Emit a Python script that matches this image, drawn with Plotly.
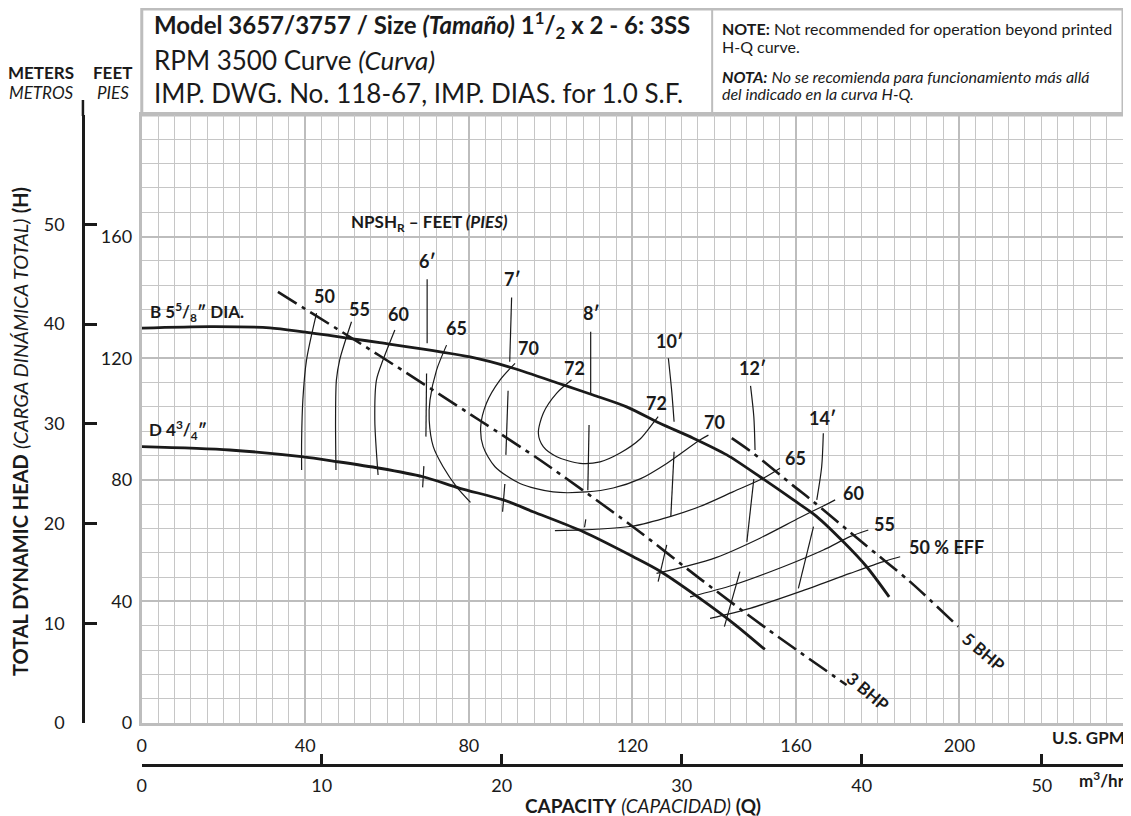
import plotly.graph_objects as go

# ---------------- data (U.S. GPM, feet) ----------------
b_q = [0, 16.6, 31.3, 52.1, 58.2, 80.3, 90.9, 103.1, 110.4, 118.6, 126.7, 134.9, 143.1, 151.2, 159.4, 165.1, 171.6, 177.3, 182.8]
b_h = [129.9, 130.4, 130.0, 126.3, 125.1, 120.4, 116.7, 111.2, 107.9, 104.0, 98.6, 93.7, 88.2, 81.0, 73.4, 67.9, 59.6, 51.4, 41.5]

d_q = [0, 21.5, 39.1, 47.6, 58.2, 68.8, 77.8, 88.4, 95.7, 108.0, 120.2, 126.7, 136.5, 144.7, 152.4]
d_h = [90.9, 89.8, 87.6, 86.0, 83.8, 81.0, 77.2, 73.4, 69.5, 62.9, 54.7, 50.0, 41.0, 32.8, 24.2]

bhp3_q = [33.3, 58.2, 82.7, 97.4, 120.2, 136.5, 152.9, 172.4]
bhp3_h = [141.8, 120.8, 99.5, 86.5, 64.5, 47.5, 31.0, 12.5]

bhp5_q = [144.3, 149.6, 159.4, 164.3, 176.5, 187.9, 199.7]
bhp5_h = [93.7, 88.7, 78.0, 72.8, 59.1, 46.5, 31.7]

# efficiency contours
e50a_q = [42.75, 40.3, 39.4, 39.1, 39.1]
e50a_h = [134.8, 119.4, 106.3, 93.1, 83.2]
e55a_q = [51.3, 48.4, 47.6, 47.4, 47.5]
e55a_h = [132.0, 119.4, 112.8, 100.0, 83.2]
e60a_q = [61.9, 59.0, 57.4, 57.0, 57.8]
e60a_h = [129.3, 119.4, 112.8, 99.7, 81.6]
e65a_q = [74.55, 72.1, 70.5, 70.3, 71.3, 73.7, 77.0, 80.4]
e65a_h = [124.3, 116.1, 106.3, 99.7, 90.9, 84.3, 77.7, 72.6]
e70_q = [91.3, 87.6, 84.3, 82.9, 83.5, 86.4, 92.5, 100.6, 108.8, 115.3, 121.9, 128.4, 136.5, 138.6]
e70_h = [118.3, 112.8, 105.2, 97.5, 90.9, 84.3, 78.8, 76.0, 76.0, 77.3, 80.3, 85.4, 93.1, 94.7]
e72_q = [105.1, 101.5, 98.2, 97.0, 98.2, 101.5, 107.2, 112.1, 117.0, 121.9, 125.1, 126.3]
e72_h = [112.8, 108.5, 101.9, 95.3, 90.9, 87.6, 85.4, 85.9, 88.8, 93.4, 98.7, 100.8]
e65b_q = [101.05, 108.0, 120.2, 129.2, 136.5, 144.7, 152.0, 156.1]
e65b_h = [63.3, 63.5, 64.8, 67.9, 71.2, 76.1, 80.5, 83.8]
e60b_q = [125.9, 133.3, 140.6, 151.2, 161.0, 166.7, 169.6]
e60b_h = [49.2, 51.6, 54.5, 60.8, 67.6, 71.4, 73.4]
e55b_q = [134.1, 144.7, 156.9, 166.7, 173.2, 177.7]
e55b_h = [41.5, 45.4, 51.4, 56.9, 61.3, 63.5]
e50b_q = [139.0, 148.8, 161.0, 173.2, 181.4, 185.5]
e50b_h = [34.4, 37.7, 43.2, 49.2, 53.1, 54.7]

# NPSHr curves (segments separated by None)
npsh6_q = [69.8, 69.8, None, 69.66, 69.5, None, 69.0, 68.7]
npsh6_h = [146.0, 124.9, None, 115.0, 94.2, None, 84.5, 77.5]
npsh7_q = [90.46, 90.0, None, 89.6, 89.06, None, 88.8, 88.25]
npsh7_h = [140.0, 118.8, None, 109.3, 88.2, None, 78.6, 69.5]
npsh8_q = [109.8, 109.8, None, 109.4, 109.1, None, 108.6, 108.3]
npsh8_h = [128.7, 107.9, None, 98.0, 76.6, None, 67.0, 64.4]
npsh10_q = [128.8, 129.6, 130.2, None, 130.2, 129.4, None, 128.4, 126.3]
npsh10_h = [120.0, 109.5, 99.1, None, 89.2, 67.9, None, 58.6, 46.5]
npsh12_q = [148.9, 149.7, 150.0, None, 149.7, 148.0, None, 146.3, 142.5]
npsh12_h = [110.9, 100.8, 89.8, None, 80.2, 59.6, None, 49.8, 31.7]
npsh14_q = [166.7, 166.3, 165.1, None, 164.3, 160.6]
npsh14_h = [95.3, 84.3, 73.4, None, 64.6, 44.3]

# axis ticks
gpm_ticks = [0, 40, 80, 120, 160, 200]
ft_ticks = [0, 40, 80, 120, 160]
m_ticks = [0, 10, 20, 30, 40, 50]
m3h_ticks = [0, 10, 20, 30, 40, 50]
GPM_MAX, FT_MAX = 240, 200
FT_PER_M = 3.28084
GPM_PER_M3H = 4.402868

# labels (text, q, h)
eff_labels = [("50", 44.8, 140.5), ("55", 53.3, 136.2), ("60", 62.9, 134.5), ("65", 77.1, 129.9),
              ("70", 94.7, 123.4), ("72", 105.9, 116.8), ("72", 126.0, 105.3), ("70", 140.0, 99.0),
              ("65", 160.0, 87.2), ("60", 174.0, 75.7), ("55", 181.6, 65.5)]
npsh_labels = [("6′", 70.0, 152.0), ("7′", 90.8, 146.1), ("8′", 110.1, 134.9),
               ("10′", 129.2, 125.7), ("12′", 149.5, 116.8), ("14′", 166.6, 100.3)]

# ---------------- layout geometry ----------------
# The page body has an 8px margin, so the figure starts at screen (8, 8).
OFF = 8
W, H = 1131 - OFF, 816 - OFF
ML, MR, MT, MB = 52, 5, 107, 40
SCR_L = ML + OFF            # screen x of paper left
SCR_B = H - MB + OFF        # screen y of paper bottom
PW, PH = W - ML - MR, H - MT - MB
PLOT_L, PLOT_B = 142, 723   # screen px of plot origin
xd0 = (PLOT_L - SCR_L) / PW
yd0 = (SCR_B - PLOT_B) / PH


def px_x(p):
    return (p - SCR_L) / PW


def px_y(p):
    return (SCR_B - p) / PH


FONT = "Lato, 'Open Sans', sans-serif"
INK = "#1a1a1a"
GRID = "#c6c6c6"
GRID_MAJ = "#bdbdbd"

fig = go.Figure()


def add_line(q, h, width, dash="solid", shape="spline"):
    fig.add_trace(go.Scatter(x=q, y=h, mode="lines",
                             line=dict(color=INK, width=width, dash=dash, shape=shape, smoothing=0.8),
                             connectgaps=False, hoverinfo="skip", showlegend=False))


for q, h in [(e50a_q, e50a_h), (e55a_q, e55a_h), (e60a_q, e60a_h), (e65a_q, e65a_h), (e70_q, e70_h),
             (e72_q, e72_h), (e65b_q, e65b_h), (e60b_q, e60b_h), (e55b_q, e55b_h), (e50b_q, e50b_h)]:
    add_line(q, h, 1.2)
for q, h in [(npsh6_q, npsh6_h), (npsh7_q, npsh7_h), (npsh8_q, npsh8_h), (npsh10_q, npsh10_h),
             (npsh12_q, npsh12_h), (npsh14_q, npsh14_h)]:
    add_line(q, h, 1.2)
add_line(bhp3_q, bhp3_h, 2.6, dash="22px,6px,4px,6px")
add_line(bhp5_q, bhp5_h, 2.6, dash="22px,6px,4px,6px")
add_line(b_q, b_h, 2.8)
add_line(d_q, d_h, 2.8)

# dummy trace to show secondary metric axes
fig.add_trace(go.Scatter(x=[0], y=[0], xaxis="x2", yaxis="y2", mode="markers",
                         marker=dict(opacity=0), hoverinfo="skip", showlegend=False))


def data_ann(text, q, h, size, xanchor="center", angle=0):
    return dict(x=q, y=h, xref="x", yref="y", text=text, showarrow=False, xanchor=xanchor,
                yanchor="middle", textangle=angle, font=dict(size=size, color=INK))


def page_ann(text, sx, sy, size, xanchor="center", angle=0):
    return dict(x=px_x(sx), y=px_y(sy), xref="paper", yref="paper", text=text, showarrow=False,
                xanchor=xanchor, yanchor="middle", textangle=angle, font=dict(size=size, color=INK))


ann = []
for t, q, h in eff_labels:
    ann.append(data_ann(f"<b>{t}</b>", q, h, 18))
for t, q, h in npsh_labels:
    ann.append(data_ann(f"<b>{t}</b>", q, h, 18))
ann += [
    data_ann("<b>50 % EFF</b>", 187.2, 57.9, 18, xanchor="left"),
    data_ann("<b>NPSH<sub>R</sub> – FEET <i>(PIES)</i></b>", 50.6, 164.5, 17, xanchor="left"),
    data_ann("<b>B 5<sup>5</sup>/<sub>8</sub>″ DIA.</b>", 1.5, 135.2, 17, xanchor="left"),
    data_ann("<b>D 4<sup>3</sup>/<sub>4</sub>″</b>", 1.2, 96.4, 17, xanchor="left"),
    data_ann("<b>3 BHP</b>", 177.6, 10.2, 17, angle=40),
    data_ann("<b>5 BHP</b>", 205.8, 23.4, 17, angle=40),
    # header texts
    page_ann("<b>Model 3657/3757 / Size <i>(Tamaño)</i> 1<sup>1</sup>/<sub>2</sub> x 2 - 6: 3SS</b>",
             152, 25, 24, xanchor="left"),
    page_ann("RPM 3500 Curve <i>(Curva)</i>", 152, 60, 26, xanchor="left"),
    page_ann("IMP. DWG. No. 118-67, IMP. DIAS. for 1.0 S.F.", 152, 93, 26, xanchor="left"),
    page_ann("<b>NOTE:</b> Not recommended for operation beyond printed", 722, 28, 16, xanchor="left"),
    page_ann("H-Q curve.", 722, 46, 16, xanchor="left"),
    page_ann("<b><i>NOTA:</i></b> <i>No se recomienda para funcionamiento más allá</i>", 722, 76, 16,
             xanchor="left"),
    page_ann("<i>del indicado en la curva H-Q.</i>", 722, 94, 16, xanchor="left"),
    # unit headings
    page_ann("<b>METERS</b>", 41, 72, 17),
    page_ann("<b>FEET</b>", 113, 72, 17),
    page_ann("<i>METROS</i>", 41, 92, 17),
    page_ann("<i>PIES</i>", 113, 92, 17),
    page_ann("<b>TOTAL DYNAMIC HEAD</b> <i>(CARGA DINÁMICA TOTAL)</i> <b>(H)</b>", 20, 432, 20, angle=-90),
    page_ann("<b>U.S. GPM</b>", 1130, 737, 17, xanchor="right"),
    page_ann("<b>m<sup>3</sup>/hr</b>", 1130, 779, 17, xanchor="right"),
    page_ann("<b>CAPACITY</b> <i>(CAPACIDAD)</i> <b>(Q)</b>", 645, 805, 19),
]

shapes = [
    dict(type="rect", xref="paper", yref="paper", x0=px_x(PLOT_L), x1=px_x(1126), y0=px_y(115), y1=px_y(9),
         line=dict(color=GRID_MAJ, width=3), fillcolor="white", layer="below"),
    dict(type="line", xref="paper", yref="paper", x0=px_x(714), x1=px_x(714), y0=px_y(115), y1=px_y(9),
         line=dict(color=GRID_MAJ, width=2)),
    dict(type="line", xref="paper", yref="paper", x0=px_x(83), x1=px_x(83), y0=px_y(116), y1=px_y(100),
         line=dict(color=INK, width=2.5)),
]

axis_common = dict(showgrid=True, gridcolor=GRID_MAJ, gridwidth=2.2, zeroline=False, showline=True,
                   mirror=True, linecolor=GRID_MAJ, linewidth=3, ticks="outside", tickcolor="rgba(0,0,0,0)",
                   tickfont=dict(size=18, color=INK, family=FONT))

fig.update_layout(
    width=W, height=H, autosize=False,
    margin=dict(l=ML, r=MR, t=MT, b=MB),
    paper_bgcolor="white", plot_bgcolor="white",
    font=dict(family=FONT, color=INK),
    showlegend=False,
    xaxis=dict(domain=[xd0, 1], range=[0, GPM_MAX], tickvals=gpm_ticks, ticklen=4, anchor="y",
               minor=dict(dtick=4, showgrid=True, gridcolor=GRID, gridwidth=1), **axis_common),
    yaxis=dict(domain=[yd0, 1], range=[0, FT_MAX], tickvals=ft_ticks, ticklen=3, anchor="x",
               minor=dict(dtick=8, showgrid=True, gridcolor=GRID, gridwidth=1), **axis_common),
    xaxis2=dict(domain=[xd0, 1], range=[0, GPM_MAX / GPM_PER_M3H], tickvals=m3h_ticks, overlaying="x",
                anchor="free", position=px_y(765), side="bottom", showgrid=False, zeroline=False,
                showline=True, linecolor=INK, linewidth=3, ticks="inside", ticklen=10, tickwidth=2.5,
                tickcolor=INK, ticklabelstandoff=3, tickfont=dict(size=18, color=INK, family=FONT)),
    yaxis2=dict(domain=[yd0, 1], range=[0, FT_MAX / FT_PER_M], tickvals=m_ticks, overlaying="y",
                anchor="free", position=px_x(83), side="left", showgrid=False, zeroline=False,
                showline=True, linecolor=INK, linewidth=2.5, ticks="inside", ticklen=12, tickwidth=2.5,
                tickcolor=INK, ticklabelstandoff=14, tickfont=dict(size=18, color=INK, family=FONT)),
    annotations=ann,
    shapes=shapes,
)

fig.write_html("out.html")
